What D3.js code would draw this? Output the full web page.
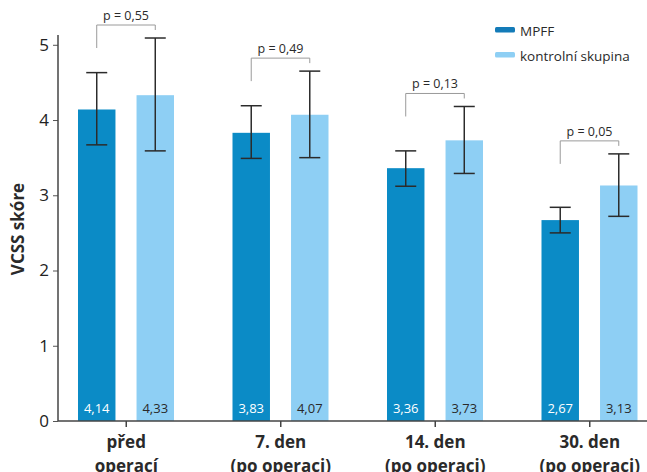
<!DOCTYPE html>
<html>
<head>
<meta charset="utf-8">
<script src="https://cdn.jsdelivr.net/npm/d3@7"></script>
<style>
  html, body { margin: 0; padding: 0; background: #fff; }
  svg { display: block; font-family: "Open Sans", "Noto Sans", sans-serif; }
</style>
</head>
<body>
<svg id="chart" width="647" height="472"></svg>
<script>
// VCSS score by time point: MPFF vs. control group (mean with error range)
const categories = ["před|operací", "7. den|(po operaci)", "14. den|(po operaci)", "30. den|(po operaci)"];
const seriesNames = ["MPFF", "kontrolní skupina"];
const mpffValues = [4.14, 3.83, 3.36, 2.67];
const controlValues = [4.33, 4.07, 3.73, 3.13];
const mpffLow = [3.67, 3.49, 3.12, 2.50];
const mpffHigh = [4.63, 4.19, 3.59, 2.84];
const controlLow = [3.59, 3.50, 3.29, 2.72];
const controlHigh = [5.09, 4.65, 4.18, 3.55];
const pValues = ["0,55", "0,49", "0,13", "0,05"];
const yTicks = [0, 1, 2, 3, 4, 5];

const colors = { "MPFF": "#0b8bc6", "kontrolní skupina": "#8ecff4" };
const W = 647, H = 472;
const axisX = 58, baseY = 421;

const svg = d3.select("#chart");

const rows = categories.map((c, i) => ({
  cat: c,
  bars: [
    { key: seriesNames[0], value: mpffValues[i], lo: mpffLow[i], hi: mpffHigh[i] },
    { key: seriesNames[1], value: controlValues[i], lo: controlLow[i], hi: controlHigh[i] }
  ],
  p: pValues[i]
}));

const y = d3.scaleLinear().domain([0, 5.13]).range([baseY, 35]);
const x0 = d3.scaleBand().domain(categories).range([49, 667]).padding(0);
const x1 = d3.scaleBand().domain(seriesNames).range([29, 125]).paddingInner(0.36);

const fmt = v => d3.format(".2f")(v).replace(".", ",");

// Bars
const groups = svg.append("g").selectAll("g")
  .data(rows).join("g")
  .attr("transform", d => `translate(${x0(d.cat)},0)`);

groups.selectAll("rect")
  .data(d => d.bars).join("rect")
  .attr("x", d => x1(d.key))
  .attr("width", x1.bandwidth())
  .attr("y", d => y(d.value))
  .attr("height", d => y(0) - y(d.value))
  .attr("fill", d => colors[d.key]);

// Value labels inside bars
groups.selectAll("text.val")
  .data(d => d.bars).join("text")
  .attr("class", "val")
  .attr("x", d => x1(d.key) + x1.bandwidth() / 2)
  .attr("y", baseY - 8)
  .attr("text-anchor", "middle")
  .attr("font-size", 13)
  .attr("fill", d => d.key === seriesNames[0] ? "#ffffff" : "#2a2a2a")
  .text(d => fmt(d.value));

// Error bars
const capW = 21;
const err = groups.selectAll("g.err")
  .data(d => d.bars).join("g")
  .attr("class", "err")
  .attr("stroke", "#2b2b2b")
  .attr("stroke-width", 1.5);
err.append("line")
  .attr("x1", d => x1(d.key) + x1.bandwidth() / 2)
  .attr("x2", d => x1(d.key) + x1.bandwidth() / 2)
  .attr("y1", d => y(d.hi)).attr("y2", d => y(d.lo));
["hi", "lo"].forEach(k => {
  err.append("line")
    .attr("x1", d => x1(d.key) + x1.bandwidth() / 2 - capW / 2)
    .attr("x2", d => x1(d.key) + x1.bandwidth() / 2 + capW / 2)
    .attr("y1", d => y(d[k])).attr("y2", d => y(d[k]));
});

// Significance brackets
groups.each(function (d) {
  const g = d3.select(this);
  const xl = x1(seriesNames[0]) + x1.bandwidth() / 2;
  const xr = x1(seriesNames[1]) + x1.bandwidth() / 2;
  const top = y(d3.max(d.bars, b => b.hi)) - 13;
  g.append("path")
    .attr("d", `M${xl},${top + 23}V${top}H${xr}V${top + 5}`)
    .attr("fill", "none")
    .attr("stroke", "#9a9a9a")
    .attr("stroke-width", 1);
  g.append("text")
    .attr("x", (xl + xr) / 2)
    .attr("y", top - 5)
    .attr("text-anchor", "middle")
    .attr("font-size", 12.5)
    .attr("fill", "#2a2a2a")
    .text(`p = ${d.p}`);
});

// Y axis
const yAxis = svg.append("g")
  .attr("transform", `translate(${axisX},0)`)
  .call(d3.axisLeft(y).tickValues(yTicks).tickSize(5).tickPadding(4).tickFormat(d3.format("d")));
yAxis.select(".domain").remove();
yAxis.selectAll(".tick line").attr("stroke", "#555");
yAxis.selectAll(".tick text")
  .attr("font-size", 17).attr("fill", "#222")
  .attr("font-family", "\"Open Sans\", sans-serif");
svg.append("line")
  .attr("x1", axisX).attr("x2", axisX)
  .attr("y1", y.range()[1]).attr("y2", baseY)
  .attr("stroke", "#444").attr("stroke-width", 1.5);

// X axis
const xAxis = svg.append("g")
  .attr("transform", `translate(0,${baseY})`)
  .call(d3.axisBottom(x0).tickSize(6).tickFormat(""));
xAxis.select(".domain").remove();
xAxis.selectAll(".tick line").attr("stroke", "#444").attr("stroke-width", 1.5);
svg.append("line")
  .attr("x1", axisX).attr("x2", W)
  .attr("y1", baseY).attr("y2", baseY)
  .attr("stroke", "#444").attr("stroke-width", 1.5);

// Category labels (two lines each)
const catLabels = svg.append("g").selectAll("text")
  .data(categories).join("text")
  .attr("x", d => x0(d) + x0.bandwidth() / 2)
  .attr("text-anchor", "middle")
  .attr("font-size", 17)
  .attr("font-weight", 700)
  .attr("fill", "#2a2a2a");
catLabels.selectAll("tspan")
  .data(d => d.split("|")).join("tspan")
  .attr("x", function () { return d3.select(this.parentNode).attr("x"); })
  .attr("y", (d, i) => 448 + i * 24)
  .text(d => d);

// Y axis title
svg.append("text")
  .attr("transform", "translate(24,229) rotate(-90)")
  .attr("text-anchor", "middle")
  .attr("font-size", 17)
  .attr("font-weight", 700)
  .attr("fill", "#2a2a2a")
  .text("VCSS skóre");

// Legend
const legend = svg.append("g").selectAll("g")
  .data(seriesNames).join("g")
  .attr("transform", (d, i) => `translate(495,${27 + i * 25})`);
legend.append("rect")
  .attr("width", 20).attr("height", 5.5).attr("rx", 1.5)
  .attr("fill", (d, i) => i === 0 ? "#137bb8" : colors[d]);
legend.append("text")
  .attr("x", 25).attr("y", 8.5)
  .attr("font-size", 13.5)
  .attr("fill", "#2a2a2a")
  .text(d => d);
</script>
</body>
</html>
